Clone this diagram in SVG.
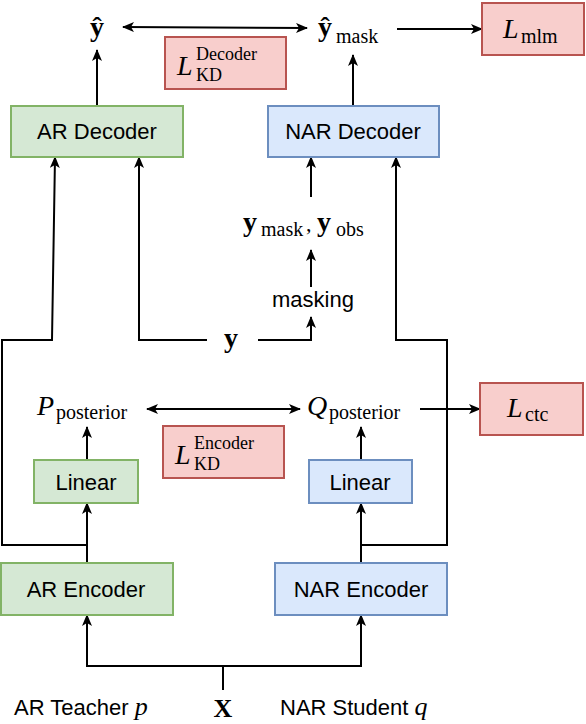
<svg xmlns="http://www.w3.org/2000/svg" width="586" height="724" viewBox="0 0 586 724">
<defs>
<marker id="ah" viewBox="0 0 12 10" refX="11" refY="5" markerWidth="12" markerHeight="10" markerUnits="userSpaceOnUse" orient="auto-start-reverse">
<path d="M0,0 L12,5 L0,10 L3,5 Z" fill="#000"/>
</marker>
<style>
.g{fill:#d5e8d4;stroke:#82b366;stroke-width:2}
.b{fill:#dae8fc;stroke:#6c8ebf;stroke-width:2}
.r{fill:#f8cecc;stroke:#b85450;stroke-width:2}
.t{font-family:"Liberation Sans",Arial,sans-serif;font-size:22px;fill:#000;text-anchor:middle}
.ts{font-family:"Liberation Sans",Arial,sans-serif;font-size:22px;fill:#000}
.m{font-family:"Liberation Serif","Times New Roman",serif;fill:#000}
.mb{font-family:"Liberation Serif","Times New Roman",serif;font-weight:bold;fill:#000}
.it{font-family:"Liberation Serif","Times New Roman",serif;font-style:italic}
.up{font-style:normal;font-weight:normal}
.c{fill:none;stroke:#000;stroke-width:2}
.a{fill:none;stroke:#000;stroke-width:2;marker-end:url(#ah)}
.d{fill:none;stroke:#000;stroke-width:2;marker-start:url(#ah);marker-end:url(#ah)}
</style>
</defs>
<g id="connectors">
<path class="a" d="M97,106 V50"/>
<path class="d" d="M123,27 L307,28"/>
<path class="a" d="M353,106 V55"/>
<path class="a" d="M397,29 H482"/>
<path class="a" d="M87,545 H2 V340 H52 L55,157"/>
<path class="a" d="M207,340 H139 V157"/>
<path class="a" d="M258,340 H311 V317"/>
<path class="a" d="M311,287 V250"/>
<path class="a" d="M311,197 V157"/>
<path class="a" d="M361,545 H447 V340 H396 V157"/>
<path class="a" d="M87,563 V503"/>
<path class="a" d="M87,460 V427"/>
<path class="a" d="M361,563 V503"/>
<path class="a" d="M361,460 V427"/>
<path class="d" d="M147,409 H300"/>
<path class="a" d="M420,409 H480"/>
<path class="c" d="M223,690 V666"/>
<path class="a" d="M223,666 H87 V615"/>
<path class="a" d="M223,666 H361 V615"/>
</g>
<g id="ar-decoder"><rect class="g" x="11" y="106" width="172" height="51"/><text class="t" x="97" y="139">AR Decoder</text></g>
<g id="nar-decoder"><rect class="b" x="268" y="106" width="171" height="51"/><text class="t" x="353" y="139">NAR Decoder</text></g>
<g id="lkd-decoder"><rect class="r" x="165" y="37" width="121" height="52"/>
<text class="m"><tspan class="it" x="177" y="75" font-size="28">L</tspan><tspan x="196" y="60" font-size="18">Decoder</tspan><tspan x="196" y="81" font-size="18">KD</tspan></text></g>
<g id="l-mlm"><rect class="r" x="482" y="3" width="102" height="52"/>
<text class="m"><tspan class="it" x="503" y="38" font-size="28">L</tspan><tspan x="521" y="43" font-size="20">mlm</tspan></text></g>
<g id="y-hat"><text class="mb" x="97" y="36" font-size="28" text-anchor="middle">ŷ</text></g>
<g id="y-hat-mask"><text class="mb"><tspan x="318" y="36" font-size="28">ŷ</tspan><tspan class="up" x="336" y="43" font-size="20">mask</tspan></text></g>
<g id="y-mask-obs"><text class="mb"><tspan x="243" y="231" font-size="28">y</tspan><tspan class="up" x="261" y="236" font-size="20">mask</tspan><tspan class="up" x="306" y="231" font-size="22">,</tspan><tspan x="317" y="231" font-size="28">y</tspan><tspan class="up" x="336" y="236" font-size="20">obs</tspan></text></g>
<g id="masking"><text class="t" x="313" y="307">masking</text></g>
<g id="y"><text class="mb" x="231" y="347" font-size="28" text-anchor="middle">y</text></g>
<g id="p-posterior"><text class="m"><tspan class="it" x="37" y="415" font-size="28">P</tspan><tspan x="56" y="419" font-size="20">posterior</tspan></text></g>
<g id="q-posterior"><text class="m"><tspan class="it" x="307" y="415" font-size="28">Q</tspan><tspan x="329" y="419" font-size="20">posterior</tspan></text></g>
<g id="lkd-encoder"><rect class="r" x="163" y="426" width="121" height="52"/>
<text class="m"><tspan class="it" x="175" y="464" font-size="28">L</tspan><tspan x="194" y="449" font-size="18">Encoder</tspan><tspan x="194" y="470" font-size="18">KD</tspan></text></g>
<g id="l-ctc"><rect class="r" x="480" y="383" width="103" height="52"/>
<text class="m"><tspan class="it" x="507" y="417" font-size="28">L</tspan><tspan x="525" y="421" font-size="20">ctc</tspan></text></g>
<g id="ar-linear"><rect class="g" x="34" y="460" width="104" height="43"/><text class="t" x="86" y="490">Linear</text></g>
<g id="nar-linear"><rect class="b" x="309" y="460" width="103" height="43"/><text class="t" x="360" y="490">Linear</text></g>
<g id="ar-encoder"><rect class="g" x="1" y="563" width="172" height="52"/><text class="t" x="86" y="597">AR Encoder</text></g>
<g id="nar-encoder"><rect class="b" x="275" y="563" width="172" height="52"/><text class="t" x="361" y="597">NAR Encoder</text></g>
<g id="x"><text class="mb" x="223" y="717" font-size="26" text-anchor="middle">X</text></g>
<g id="ar-teacher"><text class="ts" x="14" y="715">AR Teacher <tspan class="it" font-size="26">p</tspan></text></g>
<g id="nar-student"><text class="ts" x="280" y="715">NAR Student <tspan class="it" font-size="26">q</tspan></text></g>
</svg>
